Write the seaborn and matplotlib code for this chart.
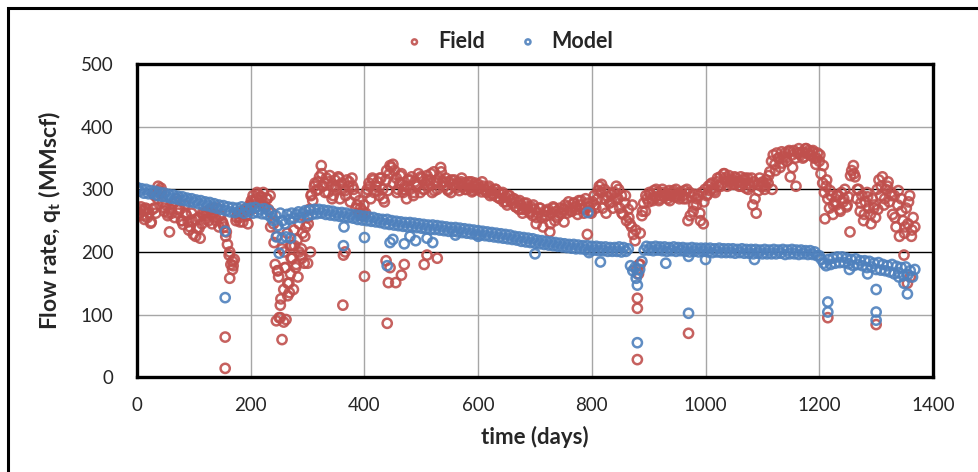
import numpy as np
import pandas as pd
import matplotlib
matplotlib.use("Agg")
import matplotlib.pyplot as plt
import seaborn as sns
from matplotlib.patches import Rectangle

# field rate, one reading every 3 days (MMscf)
field_days = np.arange(0, 1369, 3)
field_rate = [
    265, 262, 268, 258, 266, 270, 255, 262, 246, 268,
    270, 262, 285, 298, 302, 280, 265, 275, 258, 232,
    268, 278, 255, 285, 262, 270, 250, 244, 275, 258,
    248, 240, 262, 228, 252, 238, 255, 222, 245, 260,
    258, 265, 250, 268, 245, 262, 255, 270, 240, 258,
    248, 240, 225, 212, 195, 180, 172, 188, 250, 262,
    255, 262, 248, 268, 258, 245, 275, 282, 290, 270,
    285, 292, 278, 288, 295, 272, 285, 268, 290, 262,
    245, 180, 225, 160, 95, 205, 140, 175, 230, 150,
    210, 190, 235, 175, 220, 245, 195, 230, 182, 240,
    255, 268, 290, 282, 305, 298, 312, 320, 338, 305,
    310, 318, 295, 322, 305, 290, 315, 300, 320, 285,
    310, 195, 298, 315, 305, 280, 318, 300, 290, 275,
    262, 270, 258, 275, 262, 300, 310, 285, 318, 295,
    305, 312, 290, 318, 300, 280, 315, 298, 325, 335,
    340, 330, 318, 300, 310, 325, 295, 305, 285, 315,
    300, 320, 290, 312, 305, 325, 295, 318, 300, 310,
    322, 305, 315, 295, 328, 310, 300, 318, 335, 312,
    305, 318, 300, 312, 295, 308, 315, 302, 310, 298,
    312, 305, 310, 300, 308, 302, 312, 298, 305, 300,
    308, 302, 296, 305, 300, 295, 302, 290, 298, 292,
    300, 288, 295, 285, 292, 280, 288, 275, 290, 282,
    278, 285, 272, 280, 268, 275, 262, 278, 268, 272,
    265, 272, 258, 268, 245, 262, 270, 255, 240, 265,
    258, 268, 232, 262, 272, 250, 265, 258, 270, 262,
    268, 275, 262, 280, 270, 265, 278, 272, 268, 282,
    275, 270, 262, 285, 228, 272, 265, 280, 290, 270,
    285, 305, 295, 270, 300, 262, 288, 278, 292, 270,
    295, 305, 285, 270, 290, 260, 278, 250, 268, 245,
    240, 228, 218, 172, 165, 230, 258, 278, 265, 285,
    280, 292, 285, 298, 288, 295, 282, 290, 300, 288,
    292, 285, 298, 290, 295, 288, 300, 292, 285, 296,
    290, 298, 285, 250, 295, 288, 265, 292, 275, 290,
    262, 295, 245, 300, 290, 305, 298, 310, 302, 295,
    312, 305, 320, 310, 325, 318, 305, 322, 312, 315,
    308, 318, 312, 305, 320, 310, 315, 302, 318, 310,
    305, 275, 312, 262, 308, 318, 305, 312, 300, 315,
    310, 328, 345, 355, 340, 358, 350, 335, 360, 352,
    358, 345, 360, 320, 355, 362, 350, 358, 365, 355,
    360, 352, 365, 358, 362, 355, 360, 350, 340, 358,
    345, 325, 310, 295, 305, 285, 270, 290, 260, 280,
    275, 290, 268, 295, 280, 300, 272, 288, 232, 330,
    338, 320, 285, 300, 265, 290, 250, 280, 295, 270,
    260, 285, 270, 255, 300, 315, 290, 320, 275, 300,
    305, 280, 295, 260, 290, 240, 275, 225, 285, 250,
    230, 270, 245, 290, 225, 255, 240,
]
# more field readings in between (every 6 days, offset by 1)
field_days_b = np.arange(1, 1369, 6)
field_rate_b = [
    258, 272, 252, 268, 248, 290, 305, 295, 270, 262,
    262, 280, 268, 250, 262, 235, 250, 225, 238, 262,
    252, 262, 270, 250, 258, 245, 232, 200, 178, 255,
    248, 265, 258, 272, 280, 295, 288, 275, 285, 240,
    215, 170, 125, 200, 150, 190, 210, 160, 205, 225,
    245, 292, 310, 300, 325, 295, 312, 285, 305, 318,
    300, 290, 312, 305, 270, 282, 265, 295, 305, 315,
    298, 318, 285, 330, 338, 310, 295, 322, 300, 305,
    315, 295, 308, 320, 300, 315, 325, 298, 312, 328,
    312, 298, 315, 305, 310, 318, 300, 312, 296, 310,
    300, 312, 298, 305, 292, 300, 286, 295, 280, 290,
    285, 272, 282, 268, 278, 262, 275, 255, 270, 258,
    265, 245, 270, 255, 262, 248, 272, 265, 278, 260,
    282, 268, 278, 262, 275, 298, 308, 285, 295, 280,
    285, 300, 262, 290, 255, 275, 235, 180, 265, 290,
    295, 282, 300, 285, 295, 290, 282, 298, 288, 292,
    285, 300, 258, 275, 285, 250, 280, 292, 308, 298,
    318, 305, 325, 315, 308, 320, 312, 305, 318, 300,
    318, 285, 298, 310, 305, 322, 300, 330, 350, 342,
    350, 362, 335, 305, 358, 350, 365, 355, 362, 350,
    355, 338, 315, 298, 275, 290, 265, 285, 275, 322,
    325, 300, 278, 260, 288, 245, 275, 268, 305, 285,
    312, 290, 255, 298, 265, 240, 280, 235,
]
# scattered low field readings
field_out_days = [155, 155, 163, 168, 245, 250, 255, 258, 262, 265, 268, 248, 270,
                  275, 280, 285, 290, 252, 260, 272, 300, 305, 362, 366, 400, 440,
                  438, 442, 445, 455, 465, 470, 505, 510, 528, 880, 880, 880, 885,
                  970, 1215, 1300, 1349, 1355, 1360, 1210]
field_out_rate = [64, 14, 158, 185, 90, 95, 60, 88, 92, 130, 135, 170, 165,
                  140, 180, 200, 190, 115, 175, 210, 182, 200, 115, 200, 161, 86,
                  186, 151, 175, 151, 163, 180, 180, 195, 190, 126, 110, 28, 180,
                  70, 95, 84, 195, 150, 160, 253]

# model rate, one value every 4 days (MMscf)
model_days = np.arange(0, 1369, 4)
model_rate = [
    303, 297, 301, 294, 300, 293, 298, 293, 297, 290,
    295, 289, 294, 288, 292, 286, 291, 285, 289, 283,
    288, 282, 286, 280, 285, 279, 283, 277, 282, 275,
    280, 274, 279, 272, 277, 270, 275, 268, 274, 266,
    272, 264, 271, 263, 270, 265, 272, 262, 269, 264,
    270, 262, 271, 263, 268, 261, 269, 260, 266, 255,
    250, 258, 242, 262, 250, 245, 260, 252, 262, 254,
    260, 264, 255, 262, 266, 258, 267, 260, 268, 261,
    268, 262, 267, 260, 266, 259, 265, 258, 263, 257,
    263, 256, 262, 255, 260, 254, 259, 252, 258, 251,
    257, 250, 256, 249, 255, 248, 253, 247, 252, 245,
    252, 244, 250, 243, 249, 242, 248, 241, 247, 240,
    247, 240, 246, 239, 245, 238, 244, 237, 243, 236,
    243, 236, 242, 235, 241, 234, 240, 233, 239, 233,
    239, 232, 238, 231, 237, 230, 236, 229, 235, 228,
    234, 227, 233, 226, 232, 225, 231, 224, 230, 223,
    229, 222, 228, 221, 227, 220, 225, 219, 224, 217,
    223, 216, 222, 215, 221, 214, 219, 213, 218, 212,
    217, 211, 216, 210, 215, 209, 214, 208, 213, 207,
    212, 206, 212, 205, 211, 205, 210, 204, 210, 203,
    209, 203, 209, 202, 208, 202, 208, 201, 207, 201,
    207, 201, 208, 200, 207, 201, 205, 178, 170, 175,
    165, 172, 185, 203, 209, 203, 208, 202, 209, 203,
    208, 202, 208, 201, 207, 202, 208, 201, 207, 202,
    207, 201, 206, 200, 207, 201, 206, 200, 206, 201,
    206, 200, 206, 199, 205, 200, 206, 199, 205, 199,
    205, 199, 205, 198, 204, 199, 205, 198, 204, 198,
    204, 197, 204, 198, 203, 197, 204, 197, 203, 197,
    204, 197, 203, 198, 204, 196, 203, 197, 204, 197,
    203, 196, 203, 197, 202, 196, 202, 196, 200, 194,
    194, 188, 182, 178, 188, 180, 190, 182, 192, 183,
    192, 183, 190, 181, 188, 178, 189, 180, 186, 178,
    186, 175, 185, 176, 182, 172, 183, 171, 180, 170,
    178, 168, 180, 165, 177, 167, 175, 162, 176, 164,
    170, 160, 172,
]
# scattered model values
model_out_days = [155, 155, 245, 250, 255, 262, 270, 363, 364, 400, 440, 445, 450,
                  470, 480, 490, 510, 520, 560, 600, 700, 793, 795, 815, 878, 880,
                  880, 930, 970, 970, 1000, 1086, 1215, 1215, 1253, 1285, 1300,
                  1300, 1300, 1349, 1355, 1340]
model_out_rate = [127, 233, 224, 198, 222, 224, 222, 210, 240, 223, 178, 215, 220,
                  213, 225, 218, 222, 215, 227, 225, 197, 263, 199, 184, 158, 147,
                  55, 182, 193, 102, 188, 188, 120, 104, 172, 165, 140,
                  104, 91, 150, 133, 160]

x_ticks = [0, 200, 400, 600, 800, 1000, 1200, 1400]
y_ticks = [0, 100, 200, 300, 400, 500]

field = pd.DataFrame({"day": np.concatenate([field_days, field_days_b, field_out_days]),
                      "rate": field_rate + field_rate_b + field_out_rate})
model = pd.DataFrame({"day": np.concatenate([model_days, model_out_days]),
                      "rate": model_rate + model_out_rate})

sns.set_style("white")
plt.rcParams["font.family"] = ["Lato", "DejaVu Sans"]
plt.rcParams["mathtext.fontset"] = "custom"
plt.rcParams["mathtext.bf"] = "Lato:bold"
plt.rcParams["mathtext.rm"] = "Lato"

red = "#C0504D"
blue = "#4F81BD"

fig = plt.figure(figsize=(9.79, 4.72), dpi=100)
ax = fig.add_axes([0.140, 0.201, 0.813, 0.663])

sns.scatterplot(data=field, x="day", y="rate", ax=ax, marker="o", s=44,
                color=red, facecolor="none", edgecolor=red, linewidth=1.8,
                alpha=0.9, label="Field")
sns.scatterplot(data=model, x="day", y="rate", ax=ax, marker="o", s=44,
                color=blue, facecolor="none", edgecolor=blue, linewidth=1.8,
                alpha=0.9, label="Model")

ax.set_xlim(0, 1400)
ax.set_ylim(0, 500)
ax.set_xticks(x_ticks)
ax.set_yticks(y_ticks)
ax.grid(True, color="#A6A6A6", linewidth=1.0)
ax.set_axisbelow(True)
for val, gl in zip(y_ticks, ax.get_ygridlines()):
    if val in (200, 300):
        gl.set_color("black")
ax.tick_params(length=0, labelsize=13.5, pad=14)
ax.tick_params(axis="y", pad=17)
for sp in ax.spines.values():
    sp.set_color("black")
    sp.set_linewidth(2.4)

ax.set_xlabel("time (days)", fontsize=16, fontweight="bold", labelpad=9)
ax.set_ylabel(r"Flow rate, q$_{\mathbf{t}}$ (MMscf)", fontsize=16.5,
              fontweight="bold", labelpad=13)

ax.get_legend().remove()
handles, labels = ax.get_legend_handles_labels()
leg = fig.legend(handles, labels, loc="center", bbox_to_anchor=(0.514, 0.913),
                 ncol=2, frameon=False, markerscale=0.55, handletextpad=0.1,
                 columnspacing=1.0, prop={"weight": "bold", "size": 15.5})

# outer frame of the chart
fig.patches.append(Rectangle((8 / 979, -0.2), 1.5, 1.2 - 7.5 / 472,
                             transform=fig.transFigure, fill=False,
                             edgecolor="black", linewidth=2.2))

fig.savefig("out.png", dpi=100)
